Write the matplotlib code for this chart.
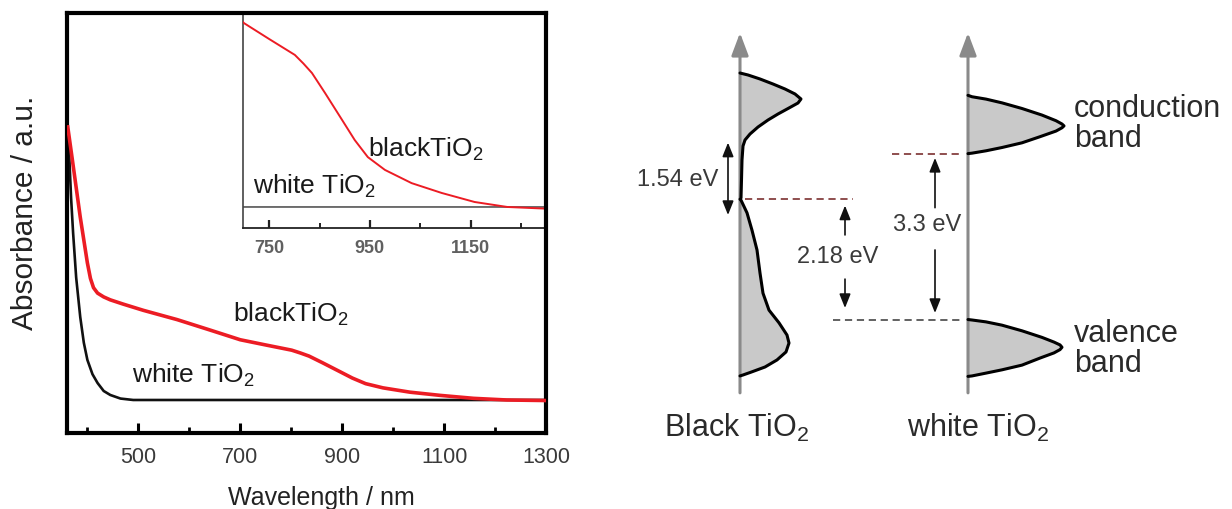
import matplotlib
matplotlib.use("Agg")
import matplotlib.pyplot as plt
from matplotlib.patches import FancyArrowPatch
from matplotlib.ticker import FixedLocator

plt.rcParams['font.family'] = ['Liberation Sans', 'DejaVu Sans']
plt.rcParams['mathtext.fontset'] = 'custom'
plt.rcParams['mathtext.rm'] = 'Liberation Sans'
plt.rcParams['mathtext.it'] = 'Liberation Sans:italic'
plt.rcParams['mathtext.bf'] = 'Liberation Sans:bold'

# ---------------- UV-vis-NIR absorption spectra ----------------
black_wl = [361, 370, 386, 400, 406, 412, 420, 432, 445, 470, 510, 576, 641,
            700, 750, 801, 818, 835, 861, 895, 920, 946, 980, 1033, 1093,
            1158, 1223, 1300]
black_abs = [0.733, 0.655, 0.514, 0.405, 0.368, 0.346, 0.333, 0.324, 0.317,
             0.307, 0.292, 0.270, 0.245, 0.222, 0.2096, 0.1972, 0.1905,
             0.1831, 0.1675, 0.1464, 0.1308, 0.1175, 0.1075, 0.0972, 0.0895,
             0.0825, 0.0786, 0.0773]

white_wl = [361, 364, 368, 372, 378, 386, 393, 400, 410, 420, 432, 445, 465,
            490, 600, 800, 1000, 1300]
white_abs = [0.733, 0.67, 0.56, 0.476, 0.37, 0.276, 0.215, 0.174, 0.140,
             0.119, 0.100, 0.0905, 0.082, 0.0786, 0.0786, 0.0786, 0.0786,
             0.0786]

main_major = [500, 700, 900, 1100, 1300]
main_minor = [400, 600, 800, 1000, 1200]
inset_major = [750, 950, 1150]
inset_minor = [850, 1050, 1250]

# ---------------- band diagram (energies in eV) ----------------
black_cb_E = [5.255, 5.213, 5.128, 5.021, 4.915, 4.809, 4.702, 4.617, 4.511,
              4.383, 4.255, 4.106, 3.957, 3.830, 3.702, 3.404, 2.979, 2.596]
black_cb_dos = [0, 8, 20, 33, 45, 55, 61, 58, 49, 38, 28, 18, 10, 5, 3, 2,
                1.5, 1]
black_vb_E = [2.57, 2.55, 2.28, 1.91, 1.49, 1.00, 0.57, 0.21, -0.06, -0.32,
              -0.49, -0.68, -0.85, -1.00, -1.11, -1.17, -1.19]
black_vb_dos = [0, 1, 7, 12, 17, 20, 23, 29, 39, 47, 49, 46, 37, 25, 11, 3, 0]

white_cb_E = [4.78, 4.75, 4.70, 4.62, 4.50, 4.36, 4.24, 4.17, 4.13, 4.09,
              4.02, 3.90, 3.77, 3.67, 3.60, 3.55, 3.54]
white_cb_dos = [0, 4, 18, 34, 54, 74, 88, 94, 96, 94, 88, 72, 54, 34, 18, 4, 0]
white_vb_E = [0.01, 0.0, -0.04, -0.11, -0.23, -0.37, -0.47, -0.53, -0.58,
              -0.63, -0.70, -0.81, -0.96, -1.06, -1.13, -1.19, -1.20]
white_vb_dos = [0, 4, 18, 34, 54, 74, 86, 92, 94, 92, 86, 72, 54, 34, 18, 4, 0]

black_level_E = 2.57
white_cb_edge_E = 3.54
white_vb_edge_E = 0.0

gap_values = [1.54, 2.18, 3.3]
gap_start_E = [2.234, 0.255, 0.149]
gap_labels = ["1.54 eV", "2.18 eV", "3.3 eV"]

W, H = 1232, 509
fig = plt.figure(figsize=(W / 100, H / 100), dpi=100)
fig.patch.set_facecolor('white')

RED = '#ec1c24'

# ---------------- main spectrum panel ----------------
ax = fig.add_axes([67 / W, (H - 433) / H, 479 / W, 420 / H])
ax.set_zorder(2)
ax.patch.set_visible(False)
ax.plot(white_wl, white_abs, color='#111111', lw=1.9, solid_capstyle='butt',
        solid_joinstyle='round', zorder=2)
ax.plot(black_wl, black_abs, color=RED, lw=2.6, solid_capstyle='butt',
        solid_joinstyle='round', zorder=3)
ax.set_xlim(360, 1300)
ax.set_ylim(0, 1)
ax.xaxis.set_major_locator(FixedLocator(main_major))
ax.xaxis.set_minor_locator(FixedLocator(main_minor))
ax.set_yticks([])
ax.tick_params(axis='x', which='major', direction='in', length=7, width=2.2,
               labelsize=15.5, labelcolor='#3a3a3a', pad=10, color='black')
ax.tick_params(axis='x', which='minor', direction='in', length=4.5, width=2.0,
               color='black')
for s in ax.spines.values():
    s.set_linewidth(3.0)
    s.set_color('black')
ax.set_xlabel('Wavelength / nm', fontsize=18, color='#222222')
ax.xaxis.set_label_coords(0.532, -0.126)
ax.set_ylabel('Absorbance / a.u.', fontsize=21.5, color='#222222')
ax.yaxis.set_label_coords(-0.058, 0.524)

ax.text(686, 0.264, r'blackTiO$_\mathrm{2}$', fontsize=19, color='#1a1a1a',
        ha='left', va='baseline')
ax.text(488, 0.119, r'white TiO$_\mathrm{2}$', fontsize=19, color='#1a1a1a',
        ha='left', va='baseline')

# ---------------- inset (NIR region magnified) ----------------
axi = fig.add_axes([243 / W, (H - 228) / H, 303 / W, 215 / H])
axi.set_zorder(1)
axi.plot(white_wl, white_abs, color='#333333', lw=1.0, zorder=2)
axi.plot(black_wl, black_abs, color=RED, lw=1.4, solid_joinstyle='round', zorder=3)
axi.set_xlim(698, 1300)
axi.set_ylim(0.0622, 0.2299)
axi.xaxis.set_major_locator(FixedLocator(inset_major))
axi.xaxis.set_minor_locator(FixedLocator(inset_minor))
axi.set_yticks([])
axi.tick_params(axis='x', which='major', direction='in', length=6, width=1.6,
                labelsize=13, labelcolor='#606060', pad=8.5, color='#222222')
axi.tick_params(axis='x', which='minor', direction='in', length=3.5, width=1.4,
                color='#222222')
for lab in axi.get_xticklabels():
    lab.set_fontweight('bold')
axi.spines['top'].set_visible(False)
axi.spines['right'].set_visible(False)
axi.spines['left'].set_linewidth(1.2)
axi.spines['bottom'].set_linewidth(1.3)
axi.spines['left'].set_color('#444444')
axi.spines['bottom'].set_color('#222222')
axi.text(946, 0.1178, r'blackTiO$_\mathrm{2}$', fontsize=19, color='#1a1a1a',
         ha='left', va='baseline')
axi.text(718, 0.0886, r'white TiO$_\mathrm{2}$', fontsize=19, color='#1a1a1a',
         ha='left', va='baseline')

# ---------------- band diagram panel ----------------
px_per_eV = 47.0
axb = fig.add_axes([600 / W, 0, 632 / W, 1])
axb.set_xlim(600, 1232)
axb.set_ylim((320 - 509) / px_per_eV, 320 / px_per_eV)
axb.axis('off')

GREY_FILL = '#c9c9c9'
AXIS_GREY = '#8a8a8a'
x_black, x_white = 740, 968

def draw_band(x0, dos, E):
    xs = [x0 + d for d in dos]
    axb.fill_betweenx(E, x0, xs, color=GREY_FILL, lw=0, zorder=1)
    axb.plot(xs, E, color='black', lw=2.2, solid_joinstyle='round',
             solid_capstyle='round', zorder=3)

draw_band(x_black, black_cb_dos, black_cb_E)
draw_band(x_black, black_vb_dos, black_vb_E)
draw_band(x_white, white_cb_dos, white_cb_E)
draw_band(x_white, white_vb_dos, white_vb_E)

for x0 in (x_black, x_white):
    axb.add_patch(FancyArrowPatch((x0, -1.55), (x0, 6.11),
                                  arrowstyle='-|>,head_length=0.85,head_width=0.32',
                                  mutation_scale=16, color=AXIS_GREY, lw=2.2,
                                  shrinkA=0, shrinkB=0, zorder=2))

# band-edge levels
axb.plot([745, 853], [black_level_E] * 2, color='#864040', lw=1.3,
         linestyle=(0, (4, 2.6)), zorder=2)
axb.plot([892, 962], [white_cb_edge_E] * 2, color='#864040', lw=1.3,
         linestyle=(0, (4, 2.6)), zorder=2)
axb.plot([833, 963], [white_vb_edge_E] * 2, color='#555555', lw=1.3,
         linestyle=(0, (4, 2.6)), zorder=2)

arrow_kw = dict(mutation_scale=14, color='#111111', lw=1.2, shrinkA=0, shrinkB=0, zorder=4)
head = ',head_length=0.6,head_width=0.24'

# 1.54 eV: continuous double-headed arrow
e0, dv = gap_start_E[0], gap_values[0]
axb.add_patch(FancyArrowPatch((728, e0), (728, e0 + dv), arrowstyle='<|-|>' + head, **arrow_kw))
axb.text(678, 2.98, gap_labels[0], fontsize=17, color='#3a3a3a', ha='center', va='center')

# 2.18 eV and 3.3 eV: arrows split around their labels
split = [(845, 1.34, 0.47), (935, 1.94, 0.45)]
for (xa, ec, hg), e0, dv in zip(split, gap_start_E[1:], gap_values[1:]):
    axb.add_patch(FancyArrowPatch((xa, ec + hg), (xa, e0 + dv), arrowstyle='-|>' + head, **arrow_kw))
    axb.add_patch(FancyArrowPatch((xa, ec - hg), (xa, e0), arrowstyle='-|>' + head, **arrow_kw))
axb.text(838, 1.34, gap_labels[1], fontsize=17, color='#3a3a3a', ha='center', va='center')
axb.text(927, 2.02, gap_labels[2], fontsize=17, color='#3a3a3a', ha='center', va='center',
         bbox=dict(facecolor='white', edgecolor='none', pad=0.5))

big = dict(fontsize=22, color='#2a2a2a', va='baseline')
axb.text(1074, 4.32, 'conduction', ha='left', **big)
axb.text(1074, 3.68, 'band', ha='left', **big)
axb.text(1074, -0.47, 'valence', ha='left', **big)
axb.text(1074, -1.11, 'band', ha='left', **big)
axb.text(737, -2.49, r'Black TiO$_\mathrm{2}$', ha='center', **big)
axb.text(978, -2.49, r'white TiO$_\mathrm{2}$', ha='center', **big)

fig.savefig('out.png', dpi=100, facecolor='white')
